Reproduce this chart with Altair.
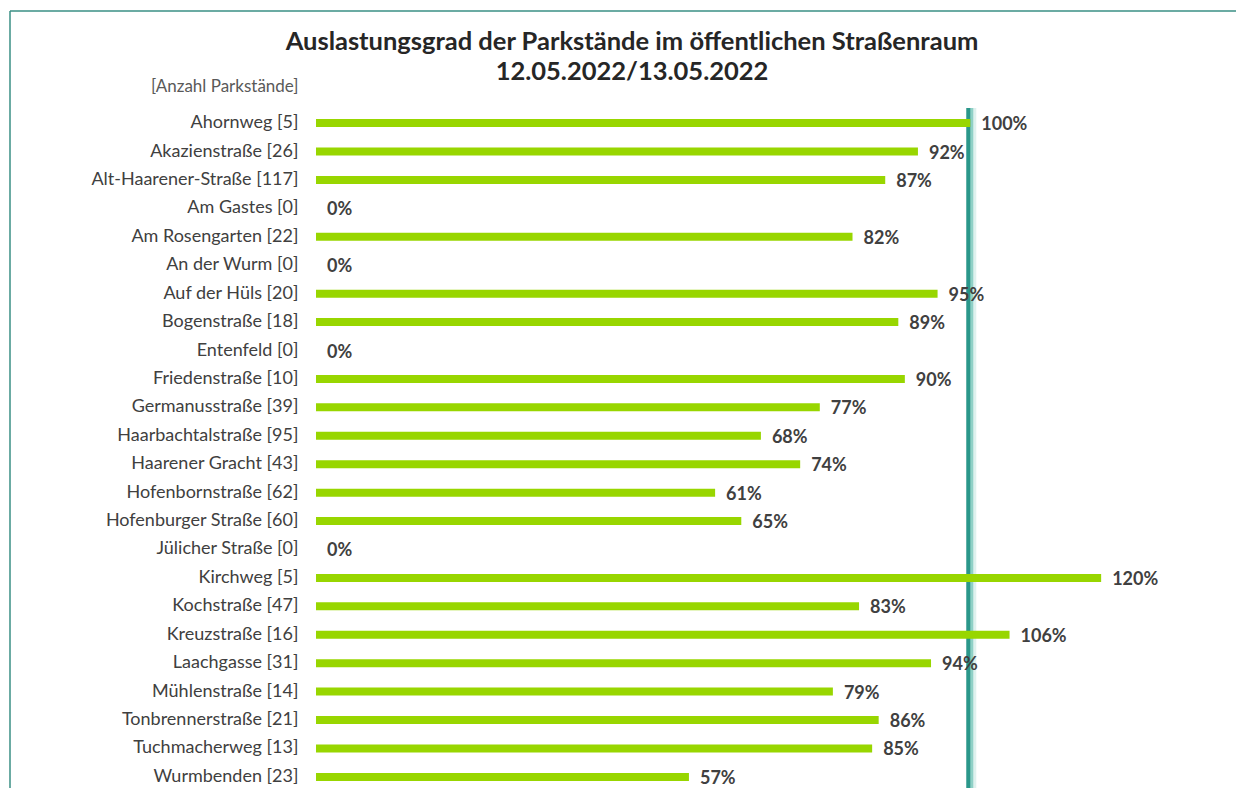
import altair as alt
import pandas as pd

streets = ["Ahornweg", "Akazienstraße", "Alt-Haarener-Straße", "Am Gastes", "Am Rosengarten",
           "An der Wurm", "Auf der Hüls", "Bogenstraße", "Entenfeld", "Friedenstraße",
           "Germanusstraße", "Haarbachtalstraße", "Haarener Gracht", "Hofenbornstraße",
           "Hofenburger Straße", "Jülicher Straße", "Kirchweg", "Kochstraße", "Kreuzstraße",
           "Laachgasse", "Mühlenstraße", "Tonbrennerstraße", "Tuchmacherweg", "Wurmbenden"]
counts = [5, 26, 117, 0, 22, 0, 20, 18, 0, 10, 39, 95, 43, 62, 60, 0, 5, 47, 16, 31, 14, 21, 13, 23]
percent = [100, 92, 87, 0, 82, 0, 95, 89, 0, 90, 77, 68, 74, 61, 65, 0, 120, 83, 106, 94, 79, 86, 85, 57]
reference_line = [100]

title_lines = ["Auslastungsgrad der Parkstände im öffentlichen Straßenraum", "12.05.2022/13.05.2022"]

labels = [f"{s} [{c}]" for s, c in zip(streets, counts)]
df = pd.DataFrame({"label": labels, "pct": percent})
df["pct_text"] = [f"{p}%" for p in percent]

W, H = 916, 668
FONT = "Lato"

x_scale = alt.Scale(domain=[0, 140], nice=False, zero=True)
y_scale = alt.Scale(domain=labels, paddingInner=0.5, paddingOuter=0)

y_axis = alt.Axis(title="[Anzahl Parkstände]", titleAngle=0, titleAlign="right",
                  titleX=-18, titleY=-30, titleBaseline="middle",
                  titleFontSize=17, titleFontWeight="normal", titleColor="#595959",
                  titleFont=FONT,
                  labelFont=FONT, labelFontSize=18, labelColor="#404040", labelLimit=320,
                  labelPadding=18, ticks=False, domain=False, grid=False)

def xenc(field):
    return alt.X(field, scale=x_scale, axis=None)

def yenc():
    return alt.Y("label:N", scale=y_scale, axis=y_axis)

base = alt.Chart(df)

bars = base.mark_bar(size=8, color="#98d600").encode(x=xenc("pct:Q"), y=yenc())

texts = base.mark_text(align="left", baseline="middle", dx=11, dy=2, font=FONT,
                       fontSize=18, fontWeight="bold", color="#404040").encode(
    x=xenc("pct:Q"), y=yenc(), text="pct_text:N")

ref_df = pd.DataFrame({"v": reference_line})
glow = alt.Chart(ref_df).mark_rule(color="#dff1ee", strokeWidth=10, xOffset=1).encode(
    x=xenc("v:Q"), y=alt.value(-8), y2=alt.value(H + 20))
mid = alt.Chart(ref_df).mark_rule(color="#8fd0c6", strokeWidth=6, xOffset=0).encode(
    x=xenc("v:Q"), y=alt.value(-8), y2=alt.value(H + 20))
core = alt.Chart(ref_df).mark_rule(color="#2a978a", strokeWidth=4, xOffset=-2).encode(
    x=xenc("v:Q"), y=alt.value(-8), y2=alt.value(H + 20))

frame_left = alt.Chart(ref_df).mark_rule(color="#3a8f84", strokeWidth=1.5).encode(
    x=alt.value(-306), y=alt.value(-105), y2=alt.value(H + 30))
frame_top = alt.Chart(ref_df).mark_rule(color="#3a8f84", strokeWidth=1.5).encode(
    x=alt.value(-306), x2=alt.value(W + 30), y=alt.value(-105))

title1 = alt.Chart(ref_df).mark_text(font=FONT, fontSize=25.5, fontWeight="bold",
                                     color="#262626", align="center", baseline="middle").encode(
    text=alt.value(title_lines[0]), x=alt.value(316), y=alt.value(-74))
title2 = alt.Chart(ref_df).mark_text(font=FONT, fontSize=25.5, fontWeight="bold",
                                     color="#262626", align="center", baseline="middle").encode(
    text=alt.value(title_lines[1]), x=alt.value(316), y=alt.value(-44))

chart = alt.layer(frame_left, frame_top, title1, title2, glow, mid, core, bars, texts).properties(
    width=W, height=H,
    padding={"left": 308, "top": 108, "right": 4, "bottom": 4},
    autosize=alt.AutoSizeParams(type="none"),
).configure_view(stroke=None)

chart.save("out.html", embed_options={"renderer": "svg", "actions": False})
